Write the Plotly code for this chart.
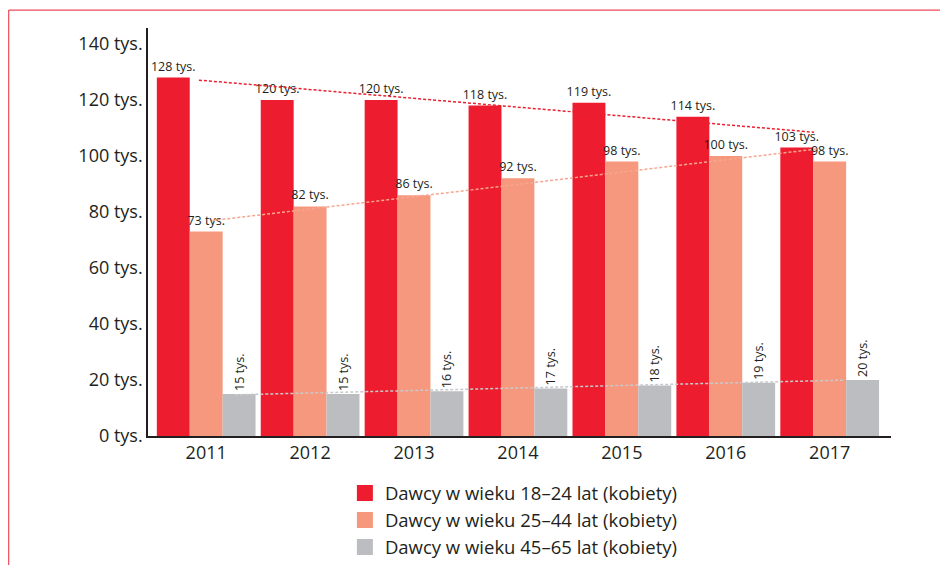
import numpy as np
import plotly.graph_objects as go

years = ["2011", "2012", "2013", "2014", "2015", "2016", "2017"]
series_names = [
    "Dawcy w wieku 18–24 lat (kobiety)",
    "Dawcy w wieku 25–44 lat (kobiety)",
    "Dawcy w wieku 45–65 lat (kobiety)",
]
donors_18_24 = [128, 120, 120, 118, 119, 114, 103]
donors_25_44 = [73, 82, 86, 92, 98, 100, 98]
donors_45_65 = [15, 15, 16, 17, 18, 19, 20]
y_ticks = [0, 20, 40, 60, 80, 100, 120, 140]

colors = ["#ED1C2E", "#F5987E", "#BCBDC0"]
trend_colors = ["#E8202F", "#F7A690", "#C8C9CB"]
# where each trend line starts/ends relative to the first/last category
trend_span = [(-0.07, -0.15), (0.06, -0.11), (0.28, 0.14)]

FONT = "Open Sans"
TXT = "#231F20"

x = np.arange(len(years))
fig = go.Figure()

for i, (name, vals) in enumerate(zip(series_names, [donors_18_24, donors_25_44, donors_45_65])):
    fig.add_trace(go.Bar(
        x=x, y=vals, name=name,
        marker=dict(color=colors[i], line=dict(width=0)),
        text=[f"{v} tys." for v in vals],
        textposition="outside",
        textangle=-90 if i == 2 else 0,
        constraintext="none",
        cliponaxis=False,
        textfont=dict(family=FONT, size=12.5, color=TXT),
        showlegend=False,
    ))

for i, vals in enumerate([donors_18_24, donors_25_44, donors_45_65]):
    a, b = np.polyfit(x, vals, 1)
    x0 = x[0] + trend_span[i][0]
    x1 = x[-1] + trend_span[i][1]
    fig.add_trace(go.Scatter(
        x=[x0, x1], y=[a * x0 + b, a * x1 + b], mode="lines",
        line=dict(color=trend_colors[i], width=1.5, dash="3px,2px"),
        showlegend=False, hoverinfo="skip",
    ))

# legend entries with square swatches
for i, name in enumerate(series_names):
    fig.add_trace(go.Scatter(
        x=[None], y=[None], mode="markers", name=name,
        marker=dict(symbol="square", size=18, color=colors[i]),
    ))

# page body has an 8px margin, so the figure is a bit smaller than the window
fig.update_layout(
    width=940, height=557,
    margin=dict(l=140, r=57, t=20, b=129, autoexpand=False),
    plot_bgcolor="white", paper_bgcolor="white",
    barmode="group", bargap=0.05, bargroupgap=0,
    font=dict(family=FONT, color=TXT),
    legend=dict(
        x=0.265, y=-0.094, xanchor="left", yanchor="top",
        font=dict(family=FONT, size=18.5, color=TXT),
        tracegroupgap=0, itemsizing="trace",
    ),
    shapes=[
        dict(type="line", xref="paper", yref="paper", x0=-0.1875, x1=1.1, y0=1.044, y1=1.044,
             line=dict(color="#EE4A5A", width=1.2)),
        dict(type="line", xref="paper", yref="paper", x0=-0.1875, x1=-0.1875, y0=1.044, y1=-0.33,
             line=dict(color="#EE4A5A", width=1.2)),
    ],
)
fig.update_xaxes(
    range=[-0.56, 6.59], tickvals=list(x), ticktext=years,
    showline=True, linecolor=TXT, linewidth=1.5, showgrid=False, zeroline=False,
    ticks="", tickfont=dict(family=FONT, size=18, color=TXT),
)
fig.update_yaxes(
    range=[0, 145.7], tickvals=y_ticks, ticktext=[f"{v} tys." for v in y_ticks],
    showline=True, linecolor=TXT, linewidth=1.5, showgrid=False, zeroline=False,
    ticks="", tickfont=dict(family=FONT, size=18, color=TXT),
)

fig.write_html("out.html")
